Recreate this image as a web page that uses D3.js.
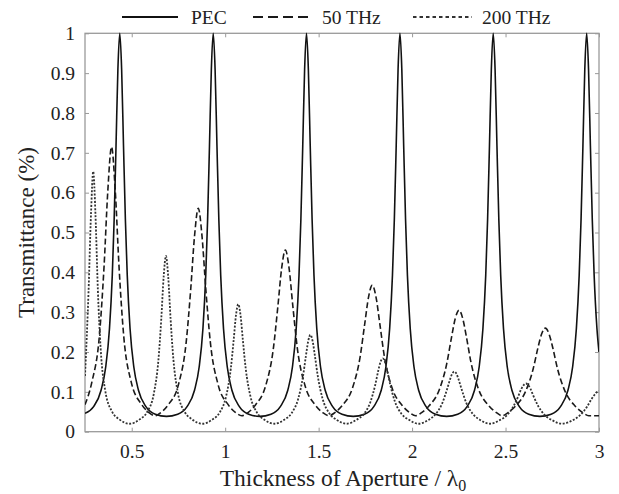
<!DOCTYPE html>
<html><head><meta charset="utf-8">
<script src="https://cdn.jsdelivr.net/npm/d3@7"></script>
<style>
html,body{margin:0;padding:0;background:#fff;}
svg text{font-family:"Liberation Serif","Times New Roman",serif;fill:#222;}
</style></head>
<body>
<svg id="chart" width="619" height="494"></svg>
<script>
// ---- data ----
const xTicks = [0.5, 1, 1.5, 2, 2.5, 3];
const xTickLabels = ["0.5", "1", "1.5", "2", "2.5", "3"];
const yTicks = [0, 0.1, 0.2, 0.3, 0.4, 0.5, 0.6, 0.7, 0.8, 0.9, 1];
const yTickLabels = ["0", "0.1", "0.2", "0.3", "0.4", "0.5", "0.6", "0.7", "0.8", "0.9", "1"];
const seriesNames = ["PEC", "50 THz", "200 THz"];

const pecData = [
[0.25,0.046],[0.296,0.063],[0.336,0.104],[0.361,0.163],[0.381,0.259],[0.396,0.393],[0.406,0.533],[0.416,0.718],[0.426,0.91],[0.436,1],[0.446,0.91],[0.456,0.718],[0.466,0.533],[0.476,0.393],[0.491,0.259],[0.511,0.163],[0.536,0.104],[0.576,0.063],[0.626,0.044],[0.686,0.0385],
[0.746,0.044],[0.796,0.063],[0.836,0.104],[0.861,0.163],[0.881,0.259],[0.896,0.393],[0.906,0.533],[0.916,0.718],[0.926,0.91],[0.936,1],[0.946,0.91],[0.956,0.718],[0.966,0.533],[0.976,0.393],[0.991,0.259],[1.011,0.163],[1.036,0.104],[1.076,0.063],[1.126,0.044],[1.186,0.0385],
[1.245,0.044],[1.295,0.063],[1.335,0.104],[1.36,0.163],[1.38,0.259],[1.395,0.393],[1.405,0.533],[1.415,0.718],[1.425,0.91],[1.435,1],[1.445,0.91],[1.455,0.718],[1.465,0.533],[1.475,0.393],[1.49,0.259],[1.51,0.163],[1.535,0.104],[1.575,0.063],[1.625,0.044],[1.685,0.0385],
[1.745,0.044],[1.795,0.063],[1.835,0.104],[1.86,0.163],[1.88,0.259],[1.895,0.393],[1.905,0.533],[1.915,0.718],[1.925,0.91],[1.935,1],[1.945,0.91],[1.955,0.718],[1.965,0.533],[1.975,0.393],[1.99,0.259],[2.01,0.163],[2.035,0.104],[2.075,0.063],[2.125,0.044],[2.185,0.0385],
[2.244,0.044],[2.294,0.063],[2.334,0.104],[2.359,0.163],[2.379,0.259],[2.394,0.393],[2.404,0.533],[2.414,0.718],[2.424,0.91],[2.434,1],[2.444,0.91],[2.454,0.718],[2.464,0.533],[2.474,0.393],[2.489,0.259],[2.509,0.163],[2.534,0.104],[2.574,0.063],[2.624,0.044],[2.684,0.0385],
[2.744,0.044],[2.794,0.063],[2.834,0.104],[2.859,0.163],[2.879,0.259],[2.894,0.393],[2.904,0.533],[2.914,0.718],[2.924,0.91],[2.934,1],[2.944,0.91],[2.954,0.718],[2.964,0.533],[2.974,0.393],[2.989,0.259],[3.0,0.2]
];

const thz50Data = [
[0.25,0.068],[0.287,0.125],[0.327,0.241],[0.352,0.415],[0.372,0.604],[0.392,0.715],[0.412,0.604],[0.432,0.415],[0.457,0.241],[0.497,0.125],[0.552,0.069],[0.592,0.048],[0.624,0.04],
[0.656,0.048],[0.696,0.068],[0.751,0.12],[0.791,0.223],[0.816,0.36],[0.836,0.491],[0.856,0.561],[0.876,0.491],[0.896,0.36],[0.921,0.223],[0.961,0.12],[1.016,0.068],[1.056,0.048],[1.089,0.04],
[1.122,0.048],[1.162,0.067],[1.217,0.116],[1.257,0.206],[1.282,0.315],[1.302,0.41],[1.322,0.456],[1.342,0.41],[1.362,0.315],[1.387,0.206],[1.427,0.116],[1.482,0.067],[1.522,0.048],[1.555,0.04],
[1.587,0.048],[1.627,0.066],[1.682,0.111],[1.722,0.188],[1.747,0.272],[1.767,0.338],[1.787,0.368],[1.807,0.338],[1.827,0.272],[1.852,0.188],[1.892,0.111],[1.947,0.066],[1.987,0.048],[2.019,0.04],
[2.051,0.048],[2.091,0.065],[2.146,0.106],[2.186,0.172],[2.211,0.237],[2.231,0.284],[2.251,0.305],[2.271,0.284],[2.291,0.237],[2.316,0.172],[2.356,0.106],[2.411,0.065],[2.451,0.048],[2.482,0.04],
[2.513,0.048],[2.553,0.064],[2.608,0.102],[2.648,0.158],[2.673,0.21],[2.693,0.245],[2.713,0.26],[2.733,0.245],[2.753,0.21],[2.778,0.158],[2.818,0.102],[2.873,0.064],[2.913,0.048],[2.945,0.04],[3.0,0.04]
];

const thz200Data = [
[0.25,0.14],[0.269,0.353],[0.282,0.545],[0.294,0.653],[0.306,0.545],[0.319,0.353],[0.334,0.207],[0.359,0.101],[0.394,0.051],[0.434,0.031],[0.4885,0.02],
[0.543,0.031],[0.583,0.05],[0.618,0.095],[0.643,0.181],[0.658,0.282],[0.671,0.39],[0.683,0.441],[0.695,0.39],[0.708,0.282],[0.723,0.181],[0.748,0.095],[0.783,0.05],[0.823,0.031],[0.8765,0.02],
[0.93,0.03],[0.97,0.048],[1.005,0.089],[1.03,0.158],[1.045,0.228],[1.058,0.293],[1.07,0.32],[1.082,0.293],[1.095,0.228],[1.11,0.158],[1.135,0.089],[1.17,0.048],[1.21,0.03],[1.263,0.02],
[1.316,0.03],[1.356,0.047],[1.391,0.083],[1.416,0.138],[1.431,0.187],[1.444,0.227],[1.456,0.243],[1.468,0.227],[1.481,0.187],[1.496,0.138],[1.521,0.083],[1.556,0.047],[1.596,0.03],[1.6495,0.02],
[1.703,0.03],[1.743,0.045],[1.778,0.076],[1.803,0.118],[1.818,0.151],[1.831,0.175],[1.843,0.184],[1.855,0.175],[1.868,0.151],[1.883,0.118],[1.908,0.076],[1.943,0.045],[1.983,0.03],[2.0345,0.02],
[2.086,0.029],[2.126,0.044],[2.161,0.071],[2.186,0.105],[2.201,0.128],[2.214,0.145],[2.226,0.151],[2.238,0.145],[2.251,0.128],[2.266,0.105],[2.291,0.071],[2.326,0.044],[2.366,0.029],[2.4175,0.02],
[2.469,0.029],[2.509,0.042],[2.544,0.065],[2.569,0.09],[2.584,0.107],[2.597,0.117],[2.609,0.121],[2.621,0.117],[2.634,0.107],[2.649,0.09],[2.674,0.065],[2.709,0.042],[2.749,0.029],[2.802,0.02],
[2.86,0.029],[2.9,0.042],[2.935,0.062],[2.96,0.082],[2.975,0.092],[2.988,0.099],[3.0,0.102]
];

// ---- drawing ----
const svg = d3.select("#chart");
const L = 85, R = 599, T = 33.3, B = 431.7;
const x = d3.scaleLinear().domain([0.25, 3]).range([L, R]);
const y = d3.scaleLinear().domain([0, 1]).range([B, T]);

const frameColor = "#9a9a9a";

svg.append("clipPath").attr("id", "plotclip")
  .append("rect").attr("x", L).attr("y", T - 2).attr("width", R - L).attr("height", B - T + 2);

// axes (inward ticks)
const gx = svg.append("g").attr("transform", `translate(0,${B})`)
  .call(d3.axisBottom(x).tickValues(xTicks).tickFormat((d, i) => xTickLabels[i]).tickSizeInner(-4).tickSizeOuter(0).tickPadding(12));
const gxt = svg.append("g").attr("transform", `translate(0,${T})`)
  .call(d3.axisTop(x).tickValues(xTicks).tickFormat("").tickSizeInner(-4).tickSizeOuter(0));
const gy = svg.append("g").attr("transform", `translate(${L},0)`)
  .call(d3.axisLeft(y).tickValues(yTicks).tickFormat((d, i) => yTickLabels[i]).tickSizeInner(-4).tickSizeOuter(0).tickPadding(10));
const gyr = svg.append("g").attr("transform", `translate(${R},0)`)
  .call(d3.axisRight(y).tickValues(yTicks).tickFormat("").tickSizeInner(-4).tickSizeOuter(0));

[gx, gxt, gy, gyr].forEach(g => {
  g.select(".domain").remove();
  g.selectAll(".tick line").attr("stroke", frameColor).attr("stroke-width", 1);
  g.selectAll("text").style("font-size", "19.5px").attr("fill", "#222");
});

svg.append("rect").attr("x", L).attr("y", T).attr("width", R - L).attr("height", B - T)
  .attr("fill", "none").attr("stroke", frameColor).attr("stroke-width", 1.3);

// curves
const line = d3.line().x(d => x(d[0])).y(d => y(d[1])).curve(d3.curveMonotoneX);
const styles = [
  {data: pecData, dash: null, color: "#111", width: 1.6, legDash: null},
  {data: thz50Data, dash: "6,3", color: "#1a1a1a", width: 1.6, legDash: "10,5"},
  {data: thz200Data, dash: "2,1.6", color: "#333", width: 1.8, legDash: "3.5,3"}
];
const plot = svg.append("g").attr("clip-path", "url(#plotclip)");
styles.forEach(s => {
  plot.append("path").datum(s.data).attr("d", line)
    .attr("fill", "none").attr("stroke", s.color).attr("stroke-width", s.width)
    .attr("stroke-dasharray", s.dash).attr("stroke-linejoin", "round");
});

// legend
const legX = [[122, 178, 191], [253, 310, 322], [413, 472, 482]];
const legY = 17;
seriesNames.forEach((name, i) => {
  const s = styles[i];
  svg.append("line").attr("x1", legX[i][0]).attr("x2", legX[i][1]).attr("y1", legY).attr("y2", legY)
    .attr("stroke", s.color).attr("stroke-width", i === 0 ? 2.2 : 2).attr("stroke-dasharray", s.legDash);
  svg.append("text").attr("x", legX[i][2]).attr("y", legY + 7).style("font-size", "19.5px").text(name);
});

// axis titles
svg.append("text").attr("x", 343).attr("y", 486).attr("text-anchor", "middle")
  .style("font-size", "23.5px")
  .text("Thickness of Aperture / λ")
  .append("tspan").attr("dy", 5).style("font-size", "16px").text("0");

svg.append("text").attr("transform", `translate(34,${(T + B) / 2}) rotate(-90)`)
  .attr("text-anchor", "middle").style("font-size", "23px").text("Transmittance (%)");
</script>
</body></html>
